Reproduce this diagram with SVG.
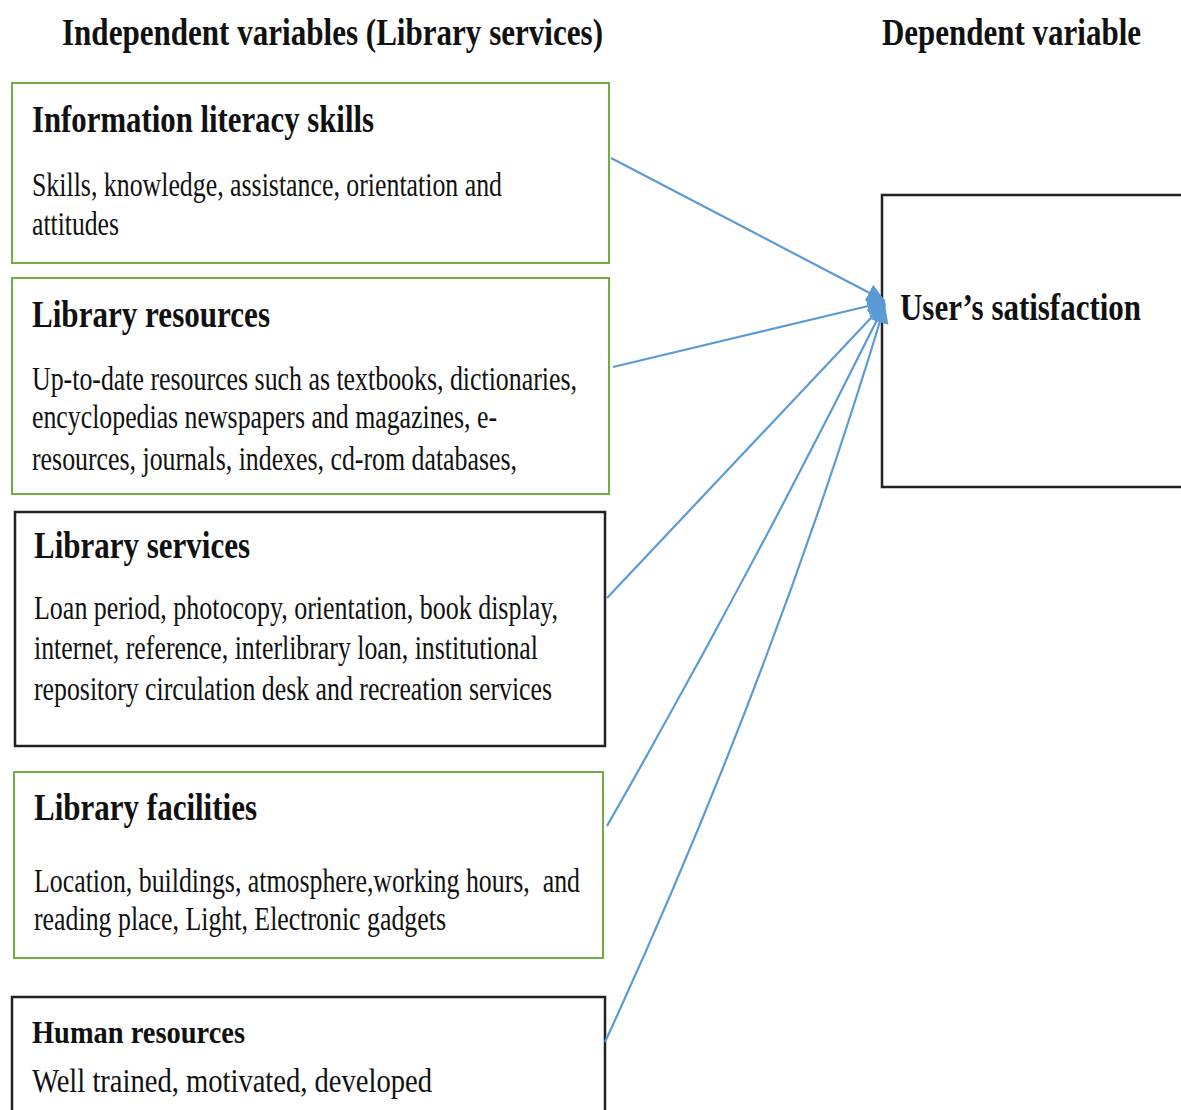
<svg xmlns="http://www.w3.org/2000/svg" width="1181" height="1110" viewBox="0 0 1181 1110">
<defs>
<style>
.g{fill:#fff;stroke:#70AD47;stroke-width:2}
.k{fill:#fff;stroke:#222;stroke-width:2.5}
.h{font-family:"Liberation Serif","Times New Roman",serif;font-weight:bold;font-size:37px;fill:#111}
.b{font-family:"Liberation Serif","Times New Roman",serif;font-size:34px;fill:#111}
.c{fill:none;stroke:#5B9BD5;stroke-width:2.2}
</style>
<marker id="ah" markerUnits="userSpaceOnUse" markerWidth="22" markerHeight="20" refX="18" refY="9" orient="auto">
<path d="M0,0 L18,9 L0,18 Z" fill="#5B9BD5"/>
</marker>
</defs>
<rect width="1181" height="1110" fill="#fff"/>
<text class="h" x="62" y="45" textLength="541" lengthAdjust="spacingAndGlyphs">Independent variables (Library services)</text>
<text class="h" x="882" y="45" textLength="259" lengthAdjust="spacingAndGlyphs">Dependent variable</text>

<g id="n1">
<rect class="g" x="12" y="83" width="597" height="180"/>
<text class="h" x="32" y="132" textLength="342" lengthAdjust="spacingAndGlyphs">Information literacy skills</text>
<text class="b" x="32" y="196" textLength="470" lengthAdjust="spacingAndGlyphs">Skills, knowledge, assistance, orientation and</text>
<text class="b" x="32" y="235" textLength="87" lengthAdjust="spacingAndGlyphs">attitudes</text>
</g>
<g id="n2">
<rect class="g" x="12" y="278" width="597" height="216"/>
<text class="h" x="32" y="327" textLength="238" lengthAdjust="spacingAndGlyphs">Library resources</text>
<text class="b" x="32" y="390" textLength="545" lengthAdjust="spacingAndGlyphs">Up-to-date resources such as textbooks, dictionaries,</text>
<text class="b" x="32" y="428" textLength="465" lengthAdjust="spacingAndGlyphs">encyclopedias newspapers and magazines, e-</text>
<text class="b" x="32" y="470" textLength="485" lengthAdjust="spacingAndGlyphs">resources, journals, indexes, cd-rom databases,</text>
</g>
<g id="n3">
<rect class="k" x="15" y="512" width="590" height="234"/>
<text class="h" x="34" y="558" textLength="216" lengthAdjust="spacingAndGlyphs">Library services</text>
<text class="b" x="34" y="619" textLength="524" lengthAdjust="spacingAndGlyphs">Loan period, photocopy, orientation, book display,</text>
<text class="b" x="34" y="659" textLength="504" lengthAdjust="spacingAndGlyphs">internet, reference, interlibrary loan, institutional</text>
<text class="b" x="34" y="700" textLength="518" lengthAdjust="spacingAndGlyphs">repository circulation desk and recreation services</text>
</g>
<g id="n4">
<rect class="g" x="14" y="772" width="589" height="186"/>
<text class="h" x="34" y="820" textLength="223" lengthAdjust="spacingAndGlyphs">Library facilities</text>
<text class="b" x="34" y="892" textLength="546" lengthAdjust="spacingAndGlyphs" xml:space="preserve">Location, buildings, atmosphere,working hours,  and</text>
<text class="b" x="34" y="930" textLength="412" lengthAdjust="spacingAndGlyphs">reading place, Light, Electronic gadgets</text>
</g>
<g id="n5">
<rect class="k" x="12" y="997" width="593" height="130"/>
<text class="h" x="32" y="1043" style="font-size:32px" textLength="213" lengthAdjust="spacingAndGlyphs">Human resources</text>
<text class="b" x="32" y="1092" textLength="400" lengthAdjust="spacingAndGlyphs">Well trained, motivated, developed</text>
</g>
<g id="n6">
<rect class="k" x="882" y="195" width="310" height="292"/>
<text class="h" x="900" y="320" textLength="241" lengthAdjust="spacingAndGlyphs">User’s satisfaction</text>
</g>

<g id="connectors">
<path class="c" d="M611,158 L885,301" marker-end="url(#ah)"/>
<path class="c" d="M613,367 L885,302" marker-end="url(#ah)"/>
<path class="c" d="M607,598 L885,303" marker-end="url(#ah)"/>
<path class="c" d="M607,826 Q752,572 885,304" marker-end="url(#ah)"/>
<path class="c" d="M605,1042 Q772,680 885,305" marker-end="url(#ah)"/>
</g>
</svg>
